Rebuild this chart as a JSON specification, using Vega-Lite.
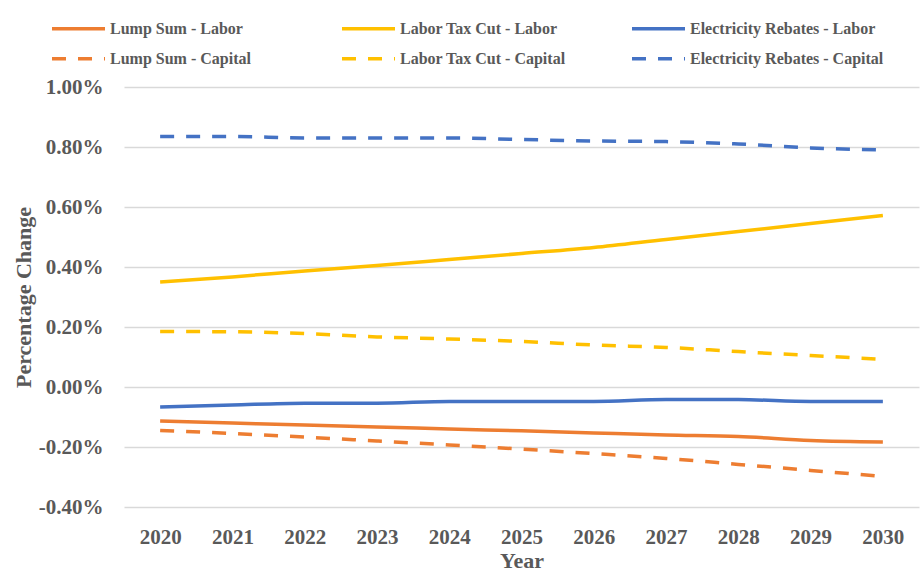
{
  "$schema": "https://vega.github.io/schema/vega-lite/v6.json",
  "width": 795,
  "height": 420,
  "autosize": {"type": "none"},
  "padding": {"left": 124, "top": 87, "right": 1, "bottom": 68},
  "background": "white",
  "config": {
    "view": {"stroke": null},
    "font": "Liberation Serif",
    "legend": {
      "orient": "none",
      "direction": "horizontal",
      "columns": 3,
      "gridAlign": "all",
      "rowPadding": 0,
      "symbolType": "stroke",
      "symbolSize": 2809,
      "symbolStrokeWidth": 3.5,
      "labelOffset": 3,
      "labelFont": "Liberation Serif",
      "labelFontWeight": "bold",
      "labelFontSize": 16,
      "labelColor": "#595959",
      "labelLimit": 300
    }
  },
  "data": {
    "values": [
      {"Year": 2020, "Factor": "Labor", "Series": "Lump Sum - Labor", "Change": -0.113},
      {"Year": 2021, "Factor": "Labor", "Series": "Lump Sum - Labor", "Change": -0.12},
      {"Year": 2022, "Factor": "Labor", "Series": "Lump Sum - Labor", "Change": -0.127},
      {"Year": 2023, "Factor": "Labor", "Series": "Lump Sum - Labor", "Change": -0.133},
      {"Year": 2024, "Factor": "Labor", "Series": "Lump Sum - Labor", "Change": -0.14},
      {"Year": 2025, "Factor": "Labor", "Series": "Lump Sum - Labor", "Change": -0.146},
      {"Year": 2026, "Factor": "Labor", "Series": "Lump Sum - Labor", "Change": -0.153},
      {"Year": 2027, "Factor": "Labor", "Series": "Lump Sum - Labor", "Change": -0.16},
      {"Year": 2028, "Factor": "Labor", "Series": "Lump Sum - Labor", "Change": -0.165},
      {"Year": 2029, "Factor": "Labor", "Series": "Lump Sum - Labor", "Change": -0.178},
      {"Year": 2030, "Factor": "Labor", "Series": "Lump Sum - Labor", "Change": -0.183},
      {"Year": 2020, "Factor": "Labor", "Series": "Labor Tax Cut - Labor", "Change": 0.35},
      {"Year": 2021, "Factor": "Labor", "Series": "Labor Tax Cut - Labor", "Change": 0.367},
      {"Year": 2022, "Factor": "Labor", "Series": "Labor Tax Cut - Labor", "Change": 0.387},
      {"Year": 2023, "Factor": "Labor", "Series": "Labor Tax Cut - Labor", "Change": 0.405},
      {"Year": 2024, "Factor": "Labor", "Series": "Labor Tax Cut - Labor", "Change": 0.425},
      {"Year": 2025, "Factor": "Labor", "Series": "Labor Tax Cut - Labor", "Change": 0.445},
      {"Year": 2026, "Factor": "Labor", "Series": "Labor Tax Cut - Labor", "Change": 0.465},
      {"Year": 2027, "Factor": "Labor", "Series": "Labor Tax Cut - Labor", "Change": 0.492},
      {"Year": 2028, "Factor": "Labor", "Series": "Labor Tax Cut - Labor", "Change": 0.518},
      {"Year": 2029, "Factor": "Labor", "Series": "Labor Tax Cut - Labor", "Change": 0.545},
      {"Year": 2030, "Factor": "Labor", "Series": "Labor Tax Cut - Labor", "Change": 0.572},
      {"Year": 2020, "Factor": "Labor", "Series": "Electricity Rebates - Labor", "Change": -0.067},
      {"Year": 2021, "Factor": "Labor", "Series": "Electricity Rebates - Labor", "Change": -0.06},
      {"Year": 2022, "Factor": "Labor", "Series": "Electricity Rebates - Labor", "Change": -0.054},
      {"Year": 2023, "Factor": "Labor", "Series": "Electricity Rebates - Labor", "Change": -0.054},
      {"Year": 2024, "Factor": "Labor", "Series": "Electricity Rebates - Labor", "Change": -0.048},
      {"Year": 2025, "Factor": "Labor", "Series": "Electricity Rebates - Labor", "Change": -0.048},
      {"Year": 2026, "Factor": "Labor", "Series": "Electricity Rebates - Labor", "Change": -0.048},
      {"Year": 2027, "Factor": "Labor", "Series": "Electricity Rebates - Labor", "Change": -0.042},
      {"Year": 2028, "Factor": "Labor", "Series": "Electricity Rebates - Labor", "Change": -0.042},
      {"Year": 2029, "Factor": "Labor", "Series": "Electricity Rebates - Labor", "Change": -0.048},
      {"Year": 2030, "Factor": "Labor", "Series": "Electricity Rebates - Labor", "Change": -0.048},
      {"Year": 2020, "Factor": "Capital", "Series": "Lump Sum - Capital", "Change": -0.145},
      {"Year": 2021, "Factor": "Capital", "Series": "Lump Sum - Capital", "Change": -0.155},
      {"Year": 2022, "Factor": "Capital", "Series": "Lump Sum - Capital", "Change": -0.167},
      {"Year": 2023, "Factor": "Capital", "Series": "Lump Sum - Capital", "Change": -0.18},
      {"Year": 2024, "Factor": "Capital", "Series": "Lump Sum - Capital", "Change": -0.193},
      {"Year": 2025, "Factor": "Capital", "Series": "Lump Sum - Capital", "Change": -0.207},
      {"Year": 2026, "Factor": "Capital", "Series": "Lump Sum - Capital", "Change": -0.222},
      {"Year": 2027, "Factor": "Capital", "Series": "Lump Sum - Capital", "Change": -0.238},
      {"Year": 2028, "Factor": "Capital", "Series": "Lump Sum - Capital", "Change": -0.258},
      {"Year": 2029, "Factor": "Capital", "Series": "Lump Sum - Capital", "Change": -0.278},
      {"Year": 2030, "Factor": "Capital", "Series": "Lump Sum - Capital", "Change": -0.298},
      {"Year": 2020, "Factor": "Capital", "Series": "Labor Tax Cut - Capital", "Change": 0.185},
      {"Year": 2021, "Factor": "Capital", "Series": "Labor Tax Cut - Capital", "Change": 0.184},
      {"Year": 2022, "Factor": "Capital", "Series": "Labor Tax Cut - Capital", "Change": 0.178},
      {"Year": 2023, "Factor": "Capital", "Series": "Labor Tax Cut - Capital", "Change": 0.167},
      {"Year": 2024, "Factor": "Capital", "Series": "Labor Tax Cut - Capital", "Change": 0.16},
      {"Year": 2025, "Factor": "Capital", "Series": "Labor Tax Cut - Capital", "Change": 0.152},
      {"Year": 2026, "Factor": "Capital", "Series": "Labor Tax Cut - Capital", "Change": 0.14},
      {"Year": 2027, "Factor": "Capital", "Series": "Labor Tax Cut - Capital", "Change": 0.132},
      {"Year": 2028, "Factor": "Capital", "Series": "Labor Tax Cut - Capital", "Change": 0.118},
      {"Year": 2029, "Factor": "Capital", "Series": "Labor Tax Cut - Capital", "Change": 0.105},
      {"Year": 2030, "Factor": "Capital", "Series": "Labor Tax Cut - Capital", "Change": 0.092},
      {"Year": 2020, "Factor": "Capital", "Series": "Electricity Rebates - Capital", "Change": 0.835},
      {"Year": 2021, "Factor": "Capital", "Series": "Electricity Rebates - Capital", "Change": 0.835},
      {"Year": 2022, "Factor": "Capital", "Series": "Electricity Rebates - Capital", "Change": 0.83},
      {"Year": 2023, "Factor": "Capital", "Series": "Electricity Rebates - Capital", "Change": 0.83},
      {"Year": 2024, "Factor": "Capital", "Series": "Electricity Rebates - Capital", "Change": 0.83},
      {"Year": 2025, "Factor": "Capital", "Series": "Electricity Rebates - Capital", "Change": 0.825},
      {"Year": 2026, "Factor": "Capital", "Series": "Electricity Rebates - Capital", "Change": 0.82},
      {"Year": 2027, "Factor": "Capital", "Series": "Electricity Rebates - Capital", "Change": 0.818},
      {"Year": 2028, "Factor": "Capital", "Series": "Electricity Rebates - Capital", "Change": 0.81},
      {"Year": 2029, "Factor": "Capital", "Series": "Electricity Rebates - Capital", "Change": 0.797},
      {"Year": 2030, "Factor": "Capital", "Series": "Electricity Rebates - Capital", "Change": 0.79}
    ]
  },
  "encoding": {
    "x": {
      "field": "Year",
      "type": "ordinal",
      "scale": {"type": "point", "padding": 0.5},
      "axis": {
        "labelAngle": 0,
        "labelFont": "Liberation Serif",
        "labelFontWeight": "bold",
        "labelFontSize": 21,
        "labelColor": "#595959",
        "labelPadding": 19,
        "ticks": false,
        "domain": false,
        "grid": false,
        "title": "Year",
        "titleFont": "Liberation Serif",
        "titleFontWeight": "bold",
        "titleFontSize": 22,
        "titleColor": "#595959",
        "titlePadding": 3
      }
    },
    "y": {
      "field": "Change",
      "type": "quantitative",
      "scale": {"domain": [-0.4, 1.0], "nice": false, "zero": false},
      "axis": {
        "values": [-0.4, -0.2, 0, 0.2, 0.4, 0.6, 0.8, 1.0],
        "labelExpr": "replace(format(datum.value, '.2f'), '\u2212', '-') + '%'",
        "labelFont": "Liberation Serif",
        "labelFontWeight": "bold",
        "labelFontSize": 21,
        "labelColor": "#595959",
        "labelPadding": 21,
        "ticks": false,
        "domain": false,
        "grid": true,
        "gridColor": "#D9D9D9",
        "gridWidth": 1.5,
        "title": "Percentage Change",
        "titleFont": "Liberation Serif",
        "titleFontWeight": "bold",
        "titleFontSize": 22,
        "titleColor": "#595959",
        "titlePadding": 3
      }
    }
  },
  "layer": [
    {
      "transform": [{"filter": "datum.Factor === 'Labor'"}],
      "mark": {"type": "line", "strokeWidth": 3.5, "interpolate": "monotone"},
      "encoding": {
        "color": {
          "field": "Series",
          "type": "nominal",
          "sort": null,
          "scale": {
            "domain": ["Lump Sum - Labor", "Labor Tax Cut - Labor", "Electricity Rebates - Labor"],
            "range": ["#ED7D31", "#FFC000", "#4472C4"]
          },
          "legend": {"title": null, "legendX": -74, "legendY": -87, "columnPadding": 39}
        }
      }
    },
    {
      "transform": [{"filter": "datum.Factor === 'Capital'"}],
      "mark": {"type": "line", "strokeWidth": 3.5, "interpolate": "monotone", "strokeDash": [14, 12]},
      "encoding": {
        "color": {
          "field": "Series",
          "type": "nominal",
          "sort": null,
          "scale": {
            "domain": ["Lump Sum - Capital", "Labor Tax Cut - Capital", "Electricity Rebates - Capital"],
            "range": ["#ED7D31", "#FFC000", "#4472C4"]
          },
          "legend": {"title": null, "legendX": -74, "legendY": -57, "columnPadding": 31, "symbolDash": [14, 12]}
        }
      }
    }
  ],
  "resolve": {"scale": {"color": "independent"}, "legend": {"color": "independent"}}
}
